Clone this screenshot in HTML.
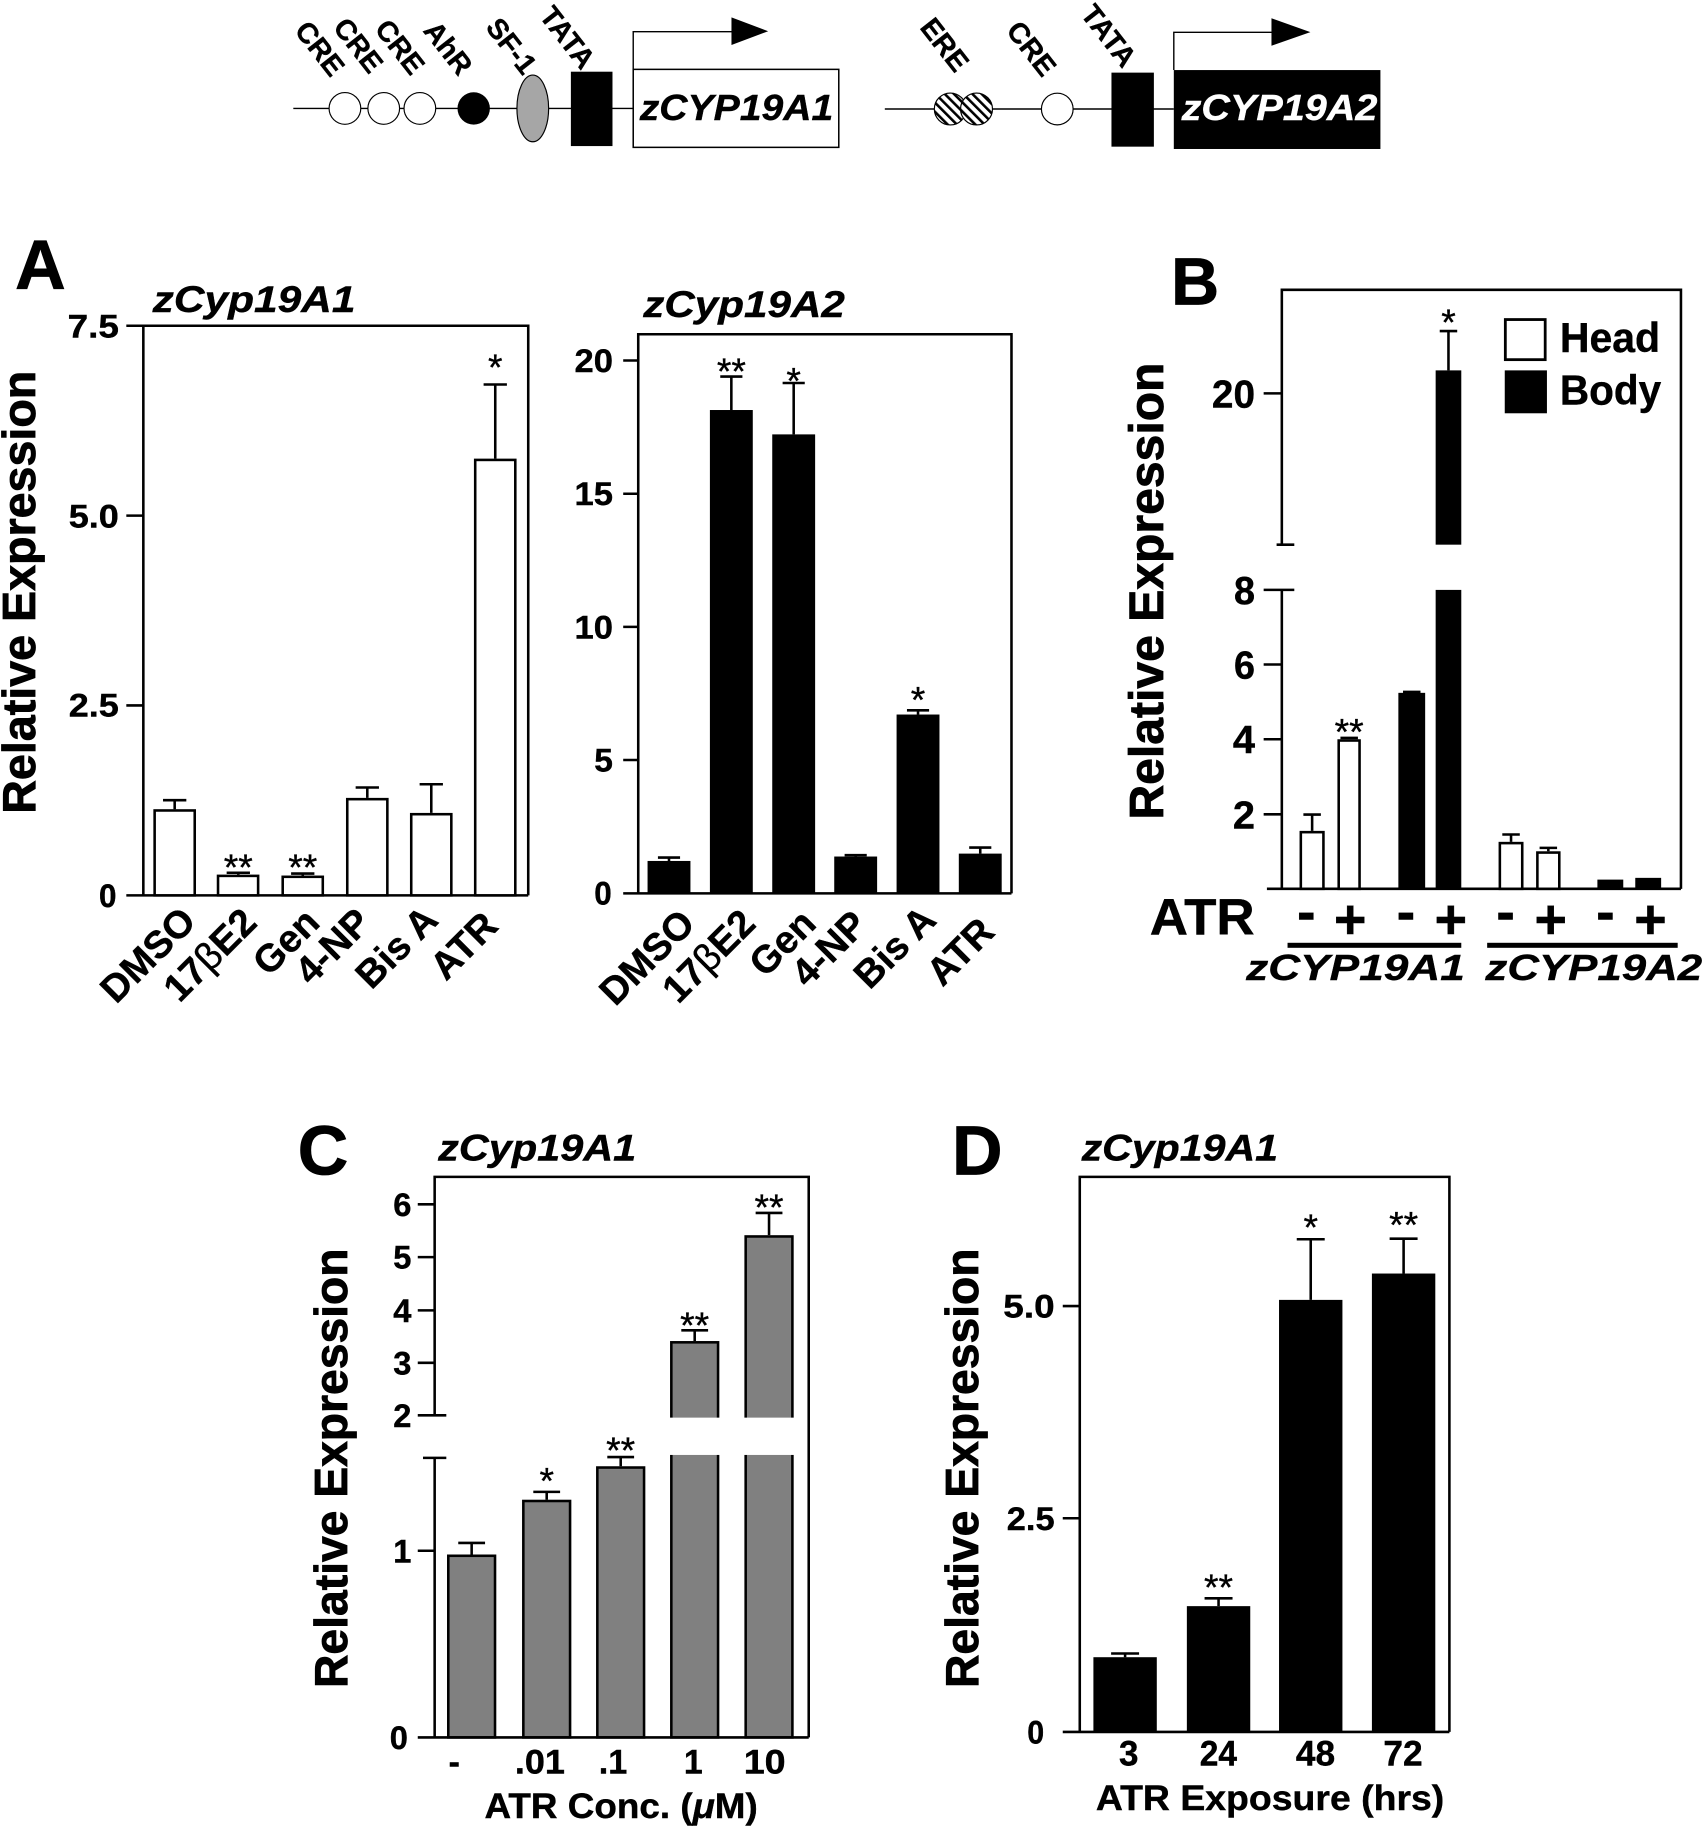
<!DOCTYPE html>
<html><head><meta charset="utf-8"><style>
html,body{margin:0;padding:0;background:#fff;}
svg{display:block;}
text{font-family:"Liberation Sans",Arial,Helvetica,sans-serif;font-weight:bold;fill:#000;stroke:#000;stroke-width:0.35px;}
.it{font-style:italic;}
.st{font-weight:normal;font-size:32px;text-anchor:middle;stroke-width:0.3px;}
.tk{font-size:28px;text-anchor:end;}
.big{stroke-width:0.7px;}
</style></head><body>
<svg xmlns="http://www.w3.org/2000/svg" width="1706" height="1828" viewBox="0 0 1464 1568" preserveAspectRatio="none">
<defs>
<pattern id="h" width="5.6" height="5.6" patternUnits="userSpaceOnUse" patternTransform="rotate(-45)"><rect width="5.6" height="5.6" fill="#fff"/><rect width="2.2" height="5.6" fill="#000"/></pattern>
</defs>
<rect width="1464" height="1568" fill="#fff"/>

<!-- ===== Top promoter diagrams ===== -->
<g stroke="#000" stroke-width="1.2" fill="none">
<line x1="251.7" y1="93" x2="543.4" y2="93"/>
<line x1="759.3" y1="93.5" x2="1007.3" y2="93.5"/>
<polyline points="543.4,59.5 543.4,27.2 628,27.2"/>
<polyline points="1007.3,60 1007.3,27.7 1092,27.7"/>
</g>
<g stroke="#000" stroke-width="1">
<circle cx="296" cy="93" r="13.6" fill="#fff"/>
<circle cx="329.3" cy="93" r="13.6" fill="#fff"/>
<circle cx="360.3" cy="93" r="13.6" fill="#fff"/>
<ellipse cx="457.2" cy="93" rx="13.6" ry="28.6" fill="#a6a6a6"/>
<circle cx="815.5" cy="93.5" r="13.7" fill="url(#h)"/>
<circle cx="838" cy="93.5" r="13.7" fill="url(#h)"/>
<circle cx="907.3" cy="93.5" r="13.6" fill="#fff"/>
</g>
<circle cx="406.5" cy="93" r="13.9" fill="#000"/>
<rect x="489.9" y="61.5" width="35.7" height="63.8" fill="#000"/>
<rect x="543.4" y="59.5" width="176.4" height="66.9" fill="#fff" stroke="#000" stroke-width="1.3"/>
<polygon points="627.7,14.9 659.2,26.8 627.7,38.6" fill="#000"/>
<text x="549" y="103" font-size="31" class="it" textLength="166" lengthAdjust="spacingAndGlyphs">zCYP19A1</text>
<rect x="953.8" y="62.3" width="36.4" height="63.5" fill="#000"/>
<rect x="1007.3" y="60.1" width="177.3" height="67.7" fill="#000"/>
<polygon points="1091.1,15.7 1124.5,27.6 1091.1,39.2" fill="#000"/>
<text x="1014" y="103" font-size="31" class="it" style="fill:#fff;stroke:#fff" textLength="168" lengthAdjust="spacingAndGlyphs">zCYP19A2</text>
<g font-size="24.5">
<text transform="translate(252,26.5) rotate(52)">CRE</text>
<text transform="translate(285,23.7) rotate(52)">CRE</text>
<text transform="translate(320.7,25.1) rotate(52)">CRE</text>
<text transform="translate(362.5,26.5) rotate(52)">AhR</text>
<text transform="translate(416,23.7) rotate(52)">SF-1</text>
<text transform="translate(462,13.7) rotate(52)">TATA</text>
<text transform="translate(788.6,23.7) rotate(52)">ERE</text>
<text transform="translate(862.7,26.5) rotate(52)">CRE</text>
<text transform="translate(926.5,12.2) rotate(52)">TATA</text>
</g>

<!-- ===== Panel A1 ===== -->
<text class="big" x="13" y="248" font-size="60">A</text>
<text x="131" y="267.5" font-size="32" class="it" textLength="174" lengthAdjust="spacingAndGlyphs">zCyp19A1</text>
<text class="big" transform="translate(30,508) rotate(-90)" font-size="40" text-anchor="middle" textLength="380" lengthAdjust="spacingAndGlyphs">Relative Expression</text>
<path d="M123 768V279.4H453.3V768M108.4 768H453.3M108.4 279.4H123M108.4 442.3H123M108.4 605.1H123" fill="none" stroke="#000" stroke-width="2.2"/>
<text class="tk" x="102" y="289.4" textLength="44" lengthAdjust="spacingAndGlyphs">7.5</text>
<text class="tk" x="102" y="452.3" textLength="43" lengthAdjust="spacingAndGlyphs">5.0</text>
<text class="tk" x="102" y="614.6" textLength="43" lengthAdjust="spacingAndGlyphs">2.5</text>
<text class="tk" x="100" y="778" textLength="15" lengthAdjust="spacingAndGlyphs">0</text>
<g fill="#fff" stroke="#000" stroke-width="2.2">
<rect x="132.7" y="695.2" width="34.4" height="72.8"/>
<rect x="187.1" y="751.3" width="34.4" height="16.7"/>
<rect x="242.6" y="752.1" width="34.4" height="15.9"/>
<rect x="298" y="685.5" width="34.4" height="82.5"/>
<rect x="352.9" y="698.4" width="34.4" height="69.6"/>
<rect x="407.8" y="394.5" width="34.4" height="373.5"/>
</g>
<path d="M149.9 694.1V686.4M139.9 686.4H159.9M204.5 750.2V748.6M194.5 748.6H214.5M259.8 751V749.3M249.8 749.3H269.8M315.2 684.4V675.5M305.2 675.5H325.2M370.1 697.3V672.7M360.1 672.7H380.1M425 393.4V329.8M415 329.8H435" fill="none" stroke="#000" stroke-width="2.2"/>
<text class="st" x="204.5" y="755">**</text>
<text class="st" x="259.8" y="755">**</text>
<text class="st" x="425" y="326">*</text>
<g font-size="33" text-anchor="end">
<text transform="translate(169.7,792) rotate(-45)">DMSO</text>
<text transform="translate(222,793) rotate(-45)">17<tspan font-weight="normal">β</tspan>E2</text>
<text transform="translate(276,793) rotate(-45)">Gen</text>
<text transform="translate(320,793) rotate(-45)">4-NP</text>
<text transform="translate(377.5,791) rotate(-45)">Bis A</text>
<text transform="translate(429,796) rotate(-45)">ATR</text>
</g>

<!-- ===== Panel A2 ===== -->
<text x="552" y="271.8" font-size="32" class="it" textLength="173" lengthAdjust="spacingAndGlyphs">zCyp19A2</text>
<path d="M547.7 766.3V286.7H868V766.3M534.8 766.3H868M534.8 309.2H547.7M534.8 423.5H547.7M534.8 537.7H547.7M534.8 651.9H547.7" fill="none" stroke="#000" stroke-width="2.2"/>
<text class="tk" x="526" y="319" textLength="33" lengthAdjust="spacingAndGlyphs">20</text>
<text class="tk" x="526" y="433.3" textLength="33" lengthAdjust="spacingAndGlyphs">15</text>
<text class="tk" x="526" y="547.5" textLength="33" lengthAdjust="spacingAndGlyphs">10</text>
<text class="tk" x="526" y="661.7" textLength="16" lengthAdjust="spacingAndGlyphs">5</text>
<text class="tk" x="525" y="776" textLength="15" lengthAdjust="spacingAndGlyphs">0</text>
<g fill="#000">
<rect x="555.7" y="738.5" width="36.8" height="27.8"/>
<rect x="609.2" y="351.7" width="36.8" height="414.6"/>
<rect x="662.7" y="372.6" width="36.8" height="393.7"/>
<rect x="715.9" y="734.7" width="36.8" height="31.6"/>
<rect x="769.4" y="612.9" width="36.8" height="153.4"/>
<rect x="822.8" y="732.2" width="36.8" height="34.1"/>
</g>
<path d="M574.1 738.5V735.6M564.6 735.6H583.6M627.6 351.7V323M618.1 323H637.1M681.1 372.6V328.5M671.6 328.5H690.6M734.3 734.7V733.5M724.8 733.5H743.8M787.8 612.9V609.3M778.3 609.3H797.3M841.2 732.2V727M831.7 727H850.7" fill="none" stroke="#000" stroke-width="2.2"/>
<text class="st" x="627.6" y="329.5">**</text>
<text class="st" x="681.1" y="337.5">*</text>
<text class="st" x="787.8" y="611.3">*</text>
<g font-size="33" text-anchor="end">
<text transform="translate(598,794) rotate(-45)">DMSO</text>
<text transform="translate(650,794) rotate(-45)">17<tspan font-weight="normal">β</tspan>E2</text>
<text transform="translate(702,794) rotate(-45)">Gen</text>
<text transform="translate(746,795) rotate(-45)">4-NP</text>
<text transform="translate(805,791) rotate(-45)">Bis A</text>
<text transform="translate(855,801) rotate(-45)">ATR</text>
</g>

<!-- ===== Panel B ===== -->
<text class="big" x="1005" y="261.4" font-size="57">B</text>
<text class="big" transform="translate(998,507) rotate(-90)" font-size="41.5" text-anchor="middle" textLength="392" lengthAdjust="spacingAndGlyphs">Relative Expression</text>
<path d="M1100 467.2V248.6H1442.5V762.4M1100 506V762.4M1087.2 762.4H1442.5M1084.4 337.4H1100M1095.5 467.2H1110.7M1084.4 506H1110.7M1084.4 570H1100M1084.4 634.1H1100M1084.4 698.5H1100" fill="none" stroke="#000" stroke-width="2.2"/>
<g font-size="33" text-anchor="end">
<text x="1077" y="349.4" textLength="37" lengthAdjust="spacingAndGlyphs">20</text>
<text x="1077" y="518" textLength="18" lengthAdjust="spacingAndGlyphs">8</text>
<text x="1077" y="582" textLength="18" lengthAdjust="spacingAndGlyphs">6</text>
<text x="1077" y="646" textLength="19" lengthAdjust="spacingAndGlyphs">4</text>
<text x="1077" y="710.5" textLength="19" lengthAdjust="spacingAndGlyphs">2</text>
</g>
<rect x="1291.8" y="274.1" width="34.2" height="34.4" fill="#fff" stroke="#000" stroke-width="2.4"/>
<rect x="1291.3" y="317.7" width="36.2" height="36.8" fill="#000"/>
<text x="1338.6" y="301.9" font-size="36" textLength="86" lengthAdjust="spacingAndGlyphs">Head</text>
<text x="1338.6" y="346.8" font-size="36" textLength="87" lengthAdjust="spacingAndGlyphs">Body</text>
<g fill="#fff" stroke="#000" stroke-width="2.2">
<rect x="1116.3" y="713.8" width="19.4" height="48.6"/>
<rect x="1148.8" y="635.2" width="17.9" height="127.2"/>
<rect x="1287.1" y="723.2" width="19.2" height="39.2"/>
<rect x="1319.3" y="731.3" width="18.8" height="31.1"/>
</g>
<g fill="#000">
<rect x="1200" y="594.3" width="23" height="168.1"/>
<rect x="1232" y="317.7" width="22" height="149.5"/>
<rect x="1232" y="506" width="22" height="256.4"/>
<rect x="1370.8" y="754.5" width="22.2" height="7.9"/>
<rect x="1403.3" y="753" width="22.2" height="9.4"/>
</g>
<path d="M1126 712.7V698.7M1118.5 698.7H1133.5M1157.8 634.1V633M1150.3 633H1165.3M1211.5 594.3V593.5M1204 593.5H1219M1243 317.7V284M1235.5 284H1250.5M1296.7 722.1V715.8M1289.2 715.8H1304.2M1328.7 730.2V727.3M1321.2 727.3H1336.2" fill="none" stroke="#000" stroke-width="2.2"/>
<text class="st" x="1157.8" y="638.5">**</text>
<text class="st" x="1243" y="287.5">*</text>
<text x="986.7" y="801.4" font-size="44" textLength="90" lengthAdjust="spacingAndGlyphs">ATR</text>
<g font-size="48" text-anchor="middle">
<text x="1121" y="798">-</text>
<text x="1206.5" y="798">-</text>
<text x="1292" y="798">-</text>
<text x="1377.7" y="798">-</text>
<text x="1158.7" y="805">+</text>
<text x="1245" y="805">+</text>
<text x="1330.7" y="805">+</text>
<text x="1416.4" y="805">+</text>
</g>
<rect x="1104.9" y="808.7" width="149.1" height="4.3" fill="#000"/>
<rect x="1276.2" y="808.7" width="163.5" height="4.3" fill="#000"/>
<text x="1069.4" y="840.8" font-size="31" class="it" textLength="187.6" lengthAdjust="spacingAndGlyphs">zCYP19A1</text>
<text x="1274.7" y="840.8" font-size="31" class="it" textLength="186" lengthAdjust="spacingAndGlyphs">zCYP19A2</text>

<!-- ===== Panel C ===== -->
<text class="big" x="255.5" y="1007.5" font-size="60">C</text>
<text x="376" y="995.6" font-size="32" class="it" textLength="170" lengthAdjust="spacingAndGlyphs">zCyp19A1</text>
<text class="big" transform="translate(297.8,1259.4) rotate(-90)" font-size="40" text-anchor="middle" textLength="377" lengthAdjust="spacingAndGlyphs">Relative Expression</text>
<g fill="#808080" stroke="#000" stroke-width="2.2">
<rect x="384.7" y="1334.5" width="40.1" height="155.8"/>
<rect x="449.1" y="1287.5" width="40.1" height="202.8"/>
<rect x="512.6" y="1258.8" width="40.1" height="231.5"/>
<rect x="576.1" y="1151.4" width="40.1" height="338.9"/>
<rect x="639.9" y="1060.6" width="40.1" height="429.7"/>
</g>
<rect x="572" y="1216" width="114" height="32" fill="#fff"/>
<path d="M373 1214V1009.5H694V1490.3M373 1250.5V1490.3M358.5 1490.3H694M358.5 1033H373M358.5 1078.3H373M358.5 1124H373M358.5 1169H373M358.5 1214H383M363 1250.5H383M358.5 1330.2H373" fill="none" stroke="#000" stroke-width="2.2"/>
<path d="M404.75 1333.4V1323.5M393.25 1323.5H416.25M469.15 1286.4V1279.7M457.65 1279.7H480.65M532.65 1257.7V1249.8M521.15 1249.8H544.15M596.15 1150.3V1141.1M584.65 1141.1H607.65M659.95 1059.5V1040.4M648.45 1040.4H671.45" fill="none" stroke="#000" stroke-width="2.2"/>
<text class="tk" x="353" y="1043">6</text>
<text class="tk" x="353" y="1088.3">5</text>
<text class="tk" x="353" y="1134">4</text>
<text class="tk" x="353" y="1179">3</text>
<text class="tk" x="353" y="1224">2</text>
<text class="tk" x="353" y="1340.2">1</text>
<text class="tk" x="350" y="1500.3">0</text>
<text class="st" x="469.15" y="1281.1">*</text>
<text class="st" x="532.65" y="1255.1">**</text>
<text class="st" x="596.15" y="1147.5">**</text>
<text class="st" x="659.95" y="1046.3">**</text>
<g font-size="29" text-anchor="middle">
<text x="389.8" y="1521.4">-</text>
<text x="463.3" y="1521.4" textLength="43" lengthAdjust="spacingAndGlyphs">.01</text>
<text x="526.1" y="1521.4" textLength="24.5" lengthAdjust="spacingAndGlyphs">.1</text>
<text x="594.9" y="1521.4">1</text>
<text x="656.2" y="1521.4" textLength="36" lengthAdjust="spacingAndGlyphs">10</text>
</g>
<text x="415.8" y="1559.3" font-size="30" textLength="234.5" lengthAdjust="spacingAndGlyphs">ATR Conc. (<tspan class="it">μ</tspan>M)</text>

<!-- ===== Panel D ===== -->
<text class="big" x="817" y="1007.5" font-size="60">D</text>
<text x="928.2" y="995.6" font-size="32" class="it" textLength="168.5" lengthAdjust="spacingAndGlyphs">zCyp19A1</text>
<text class="big" transform="translate(839.3,1259.4) rotate(-90)" font-size="40" text-anchor="middle" textLength="377" lengthAdjust="spacingAndGlyphs">Relative Expression</text>
<g fill="#000">
<rect x="938.3" y="1421.5" width="54.4" height="64.1"/>
<rect x="1018.5" y="1377.7" width="54.4" height="107.9"/>
<rect x="1097.6" y="1115" width="54.4" height="370.6"/>
<rect x="1177.3" y="1092.4" width="54.4" height="393.2"/>
</g>
<path d="M926.6 1485.6V1009.5H1243.8V1485.6M912 1485.6H1243.8M912 1120.3H926.6M912 1302.3H926.6" fill="none" stroke="#000" stroke-width="2.2"/>
<path d="M965.5 1421.5V1418.3M953.5 1418.3H977.5M1045.7 1377.7V1371M1033.7 1371H1057.7M1124.8 1115V1063M1112.8 1063H1136.8M1204.5 1092.4V1062.5M1192.5 1062.5H1216.5" fill="none" stroke="#000" stroke-width="2.2"/>
<text class="tk" x="905" y="1130.3" textLength="44" lengthAdjust="spacingAndGlyphs">5.0</text>
<text class="tk" x="905" y="1312.3" textLength="41" lengthAdjust="spacingAndGlyphs">2.5</text>
<text class="tk" x="896" y="1495.6" textLength="14.5" lengthAdjust="spacingAndGlyphs">0</text>
<text class="st" x="1045.7" y="1372.5">**</text>
<text class="st" x="1124.8" y="1063.5">*</text>
<text class="st" x="1204.5" y="1061.5">**</text>
<g font-size="30" text-anchor="middle">
<text x="968.6" y="1514.2">3</text>
<text x="1045.6" y="1514.2" textLength="32" lengthAdjust="spacingAndGlyphs">24</text>
<text x="1128.9" y="1514.2" textLength="33.7" lengthAdjust="spacingAndGlyphs">48</text>
<text x="1204" y="1514.2" textLength="33.7" lengthAdjust="spacingAndGlyphs">72</text>
</g>
<text x="940.4" y="1552.5" font-size="30" textLength="299" lengthAdjust="spacingAndGlyphs">ATR Exposure (hrs)</text>
</svg>
</body></html>
